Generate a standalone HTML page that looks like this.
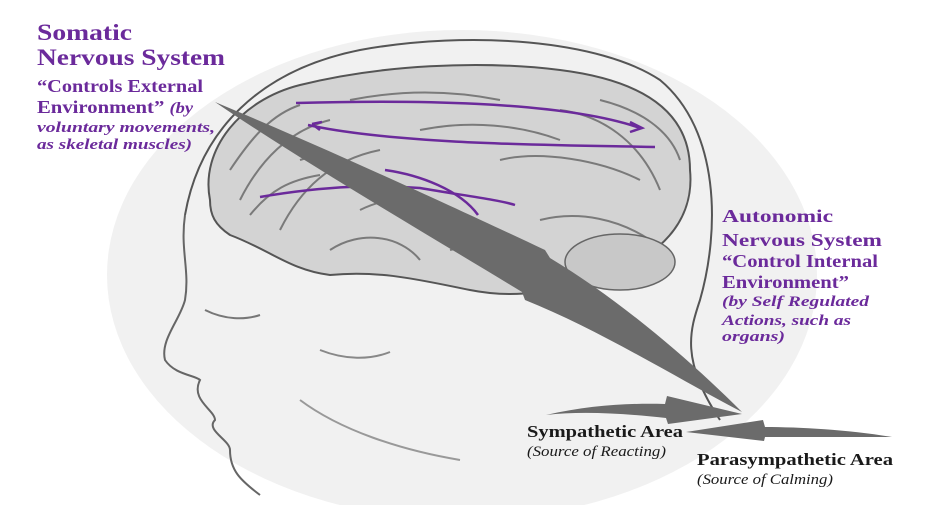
<!DOCTYPE html>
<html><head><meta charset="utf-8"><style>
body{margin:0;background:#fff;}
svg{display:block}
.p{fill:#6b2a9b;font-family:"Liberation Serif",serif;font-weight:bold}
.k{fill:#1a1a1a;font-family:"Liberation Serif",serif}
</style></head><body>
<svg width="932" height="519" viewBox="0 0 932 519">
<defs><clipPath id="c"><rect x="0" y="0" width="932" height="505"/></clipPath></defs>
<ellipse cx="462" cy="275" rx="355" ry="245" fill="#f1f1f1" clip-path="url(#c)"/>
<path d="M185,215 C200,130 260,70 360,50 C470,30 600,40 660,80 C720,130 720,230 700,300 C690,330 680,360 720,420" fill="none" stroke="#555" stroke-width="2"/>
<path d="M185,215 C180,250 190,270 185,300 C180,320 160,340 165,360 C175,375 195,375 200,380 C190,400 215,410 215,420 C205,430 230,440 230,450 C230,470 240,480 260,495" fill="none" stroke="#666" stroke-width="2"/>
<path d="M300,400 C340,430 400,450 460,460" fill="none" stroke="#999" stroke-width="2"/>
<path d="M205,310 C225,320 245,320 260,315" fill="none" stroke="#777" stroke-width="2"/>
<path d="M320,350 C345,360 370,360 390,352" fill="none" stroke="#888" stroke-width="2"/>
<path d="M210,200 C200,150 240,100 300,85 C380,65 480,60 560,70 C640,80 690,110 690,170 C695,220 660,260 600,275 C560,290 520,300 470,290 C420,280 380,270 330,275 C290,270 270,250 230,235 C215,225 210,215 210,200Z" fill="#d3d3d3" stroke="#555" stroke-width="2"/>
<g fill="none" stroke="#7a7a7a" stroke-width="2">
<path d="M240,200 C260,160 290,130 330,120 M280,230 C300,190 330,160 380,150 M350,100 C400,90 450,90 500,100 M420,130 C470,120 520,125 560,140 M500,160 C540,150 600,160 640,180 M360,210 C400,190 440,200 470,220 M540,220 C580,210 620,220 650,240 M600,100 C640,110 670,130 680,160 M300,160 C330,150 360,165 380,180 M450,250 C490,240 530,250 560,270 M230,170 C250,140 270,115 300,105 M250,215 C270,190 290,180 320,175 M330,250 C360,230 400,235 420,260 M560,110 C600,115 640,140 660,190"/>
</g>
<ellipse cx="620" cy="262" rx="55" ry="28" fill="#c8c8c8" stroke="#666" stroke-width="1.5"/>
<g fill="none" stroke="#6b2a9b" stroke-width="2.5">
<path d="M296,103 C400,100 560,100 640,128"/>
<path d="M308,125 C400,145 560,145 655,147"/>
<path d="M312,124 l8,6 M312,124 l10,-2"/>
<path d="M630,122 l12,6 l-12,4"/>
<path d="M260,197 C330,185 380,185 420,188 C460,195 500,200 515,205"/>
<path d="M293,143 C300,155 310,160 330,165 M385,170 C420,175 460,190 478,215"/>
</g>
<path d="M215,102 C330,150 460,210 545,250 L550,258 C620,300 690,360 742,412 C680,380 600,330 525,300 L522,292 C420,230 300,160 215,102Z" fill="#6b6b6b"/>
<path d="M546,415 C590,405 630,403 665,404 L667,396 L742,414 L668,424 L666,418 C620,413 580,411 546,415Z" fill="#6b6b6b"/>
<path d="M892,437 C850,430 800,427 765,427 L763,420 L686,432 L764,441 L765,437 C810,437 850,437 892,437Z" fill="#6b6b6b"/>
<g lengthAdjust="spacingAndGlyphs">
<text class="p" x="37" y="40" font-size="23" textLength="95" lengthAdjust="spacingAndGlyphs">Somatic</text>
<text class="p" x="37" y="65" font-size="23" textLength="188" lengthAdjust="spacingAndGlyphs">Nervous System</text>
<text class="p" x="37" y="92" font-size="18" textLength="166" lengthAdjust="spacingAndGlyphs">“Controls External</text>
<text class="p" x="37" y="113" font-size="18" textLength="156" lengthAdjust="spacingAndGlyphs">Environment” <tspan font-style="italic" font-size="16">(by</tspan></text>
<text class="p" x="37" y="132" font-size="15" font-style="italic" textLength="178" lengthAdjust="spacingAndGlyphs">voluntary movements,</text>
<text class="p" x="37" y="149" font-size="15" font-style="italic" textLength="155" lengthAdjust="spacingAndGlyphs">as skeletal muscles)</text>
<text class="p" x="722" y="222" font-size="18" textLength="111" lengthAdjust="spacingAndGlyphs">Autonomic</text>
<text class="p" x="722" y="246" font-size="18" textLength="160" lengthAdjust="spacingAndGlyphs">Nervous System</text>
<text class="p" x="722" y="267" font-size="18" textLength="156" lengthAdjust="spacingAndGlyphs">“Control Internal</text>
<text class="p" x="722" y="288" font-size="18" textLength="127" lengthAdjust="spacingAndGlyphs">Environment”</text>
<text class="p" x="722" y="306" font-size="15" font-style="italic" textLength="147" lengthAdjust="spacingAndGlyphs">(by Self Regulated</text>
<text class="p" x="722" y="325" font-size="15" font-style="italic" textLength="129" lengthAdjust="spacingAndGlyphs">Actions, such as</text>
<text class="p" x="722" y="341" font-size="15" font-style="italic" textLength="63" lengthAdjust="spacingAndGlyphs">organs)</text>
<text class="k" x="527" y="437" font-size="17" font-weight="bold" textLength="156" lengthAdjust="spacingAndGlyphs">Sympathetic Area</text>
<text class="k" x="527" y="456" font-size="15" font-style="italic" fill="#333" textLength="139" lengthAdjust="spacingAndGlyphs">(Source of Reacting)</text>
<text class="k" x="697" y="465" font-size="17" font-weight="bold" textLength="196" lengthAdjust="spacingAndGlyphs">Parasympathetic Area</text>
<text class="k" x="697" y="484" font-size="15" font-style="italic" fill="#333" textLength="136" lengthAdjust="spacingAndGlyphs">(Source of Calming)</text>
</g>
</svg>
</body></html>
